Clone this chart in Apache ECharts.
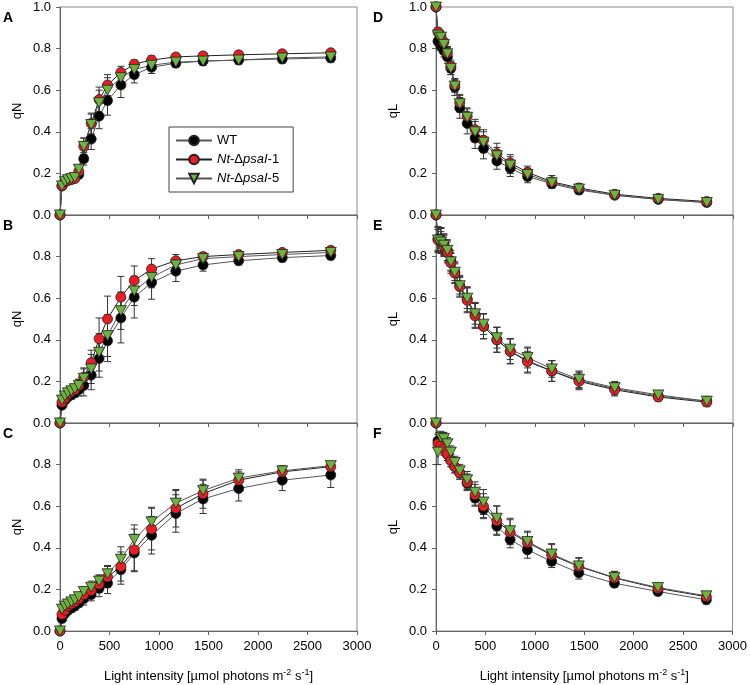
<!DOCTYPE html>
<html>
<head>
<meta charset="utf-8">
<script src="https://cdn.jsdelivr.net/npm/echarts@6/dist/echarts.min.js"></script>
<style>
html,body{margin:0;padding:0;background:#fff;}
#main{width:750px;height:685px;}
</style>
</head>
<body>
<div id="main"></div>
<script>
// light steps (µmol photons m-2 s-1)
var lightX = [0, 20, 50, 80, 115, 150, 190, 240, 315, 395, 480, 615, 750, 925, 1170, 1445, 1805, 2245, 2735];

// qN, panels A-C
var wtA = [0, 0.14, 0.16, 0.17, 0.175, 0.18, 0.195, 0.27, 0.365, 0.475, 0.55, 0.625, 0.675, 0.71, 0.73, 0.74, 0.745, 0.75, 0.755];
var d1A = [0, 0.14, 0.16, 0.165, 0.17, 0.175, 0.21, 0.33, 0.44, 0.555, 0.625, 0.685, 0.725, 0.745, 0.76, 0.765, 0.77, 0.775, 0.78];
var d5A = [0, 0.14, 0.16, 0.17, 0.175, 0.18, 0.22, 0.33, 0.435, 0.54, 0.60, 0.66, 0.70, 0.72, 0.735, 0.74, 0.745, 0.755, 0.76];
var wtB = [0, 0.085, 0.11, 0.125, 0.135, 0.145, 0.16, 0.18, 0.23, 0.31, 0.395, 0.505, 0.605, 0.675, 0.73, 0.76, 0.78, 0.795, 0.805];
var d1B = [0, 0.10, 0.12, 0.14, 0.15, 0.16, 0.18, 0.22, 0.29, 0.405, 0.50, 0.605, 0.685, 0.74, 0.78, 0.80, 0.81, 0.82, 0.83];
var d5B = [0, 0.11, 0.13, 0.145, 0.155, 0.165, 0.18, 0.215, 0.26, 0.34, 0.42, 0.54, 0.635, 0.70, 0.76, 0.79, 0.80, 0.81, 0.82];
var wtC = [0, 0.06, 0.085, 0.10, 0.11, 0.12, 0.135, 0.155, 0.175, 0.205, 0.23, 0.295, 0.375, 0.46, 0.565, 0.635, 0.685, 0.725, 0.75];
var d1C = [0, 0.08, 0.10, 0.12, 0.13, 0.14, 0.155, 0.175, 0.195, 0.225, 0.26, 0.31, 0.39, 0.49, 0.59, 0.66, 0.725, 0.765, 0.79];
var d5C = [0, 0.105, 0.12, 0.13, 0.14, 0.15, 0.165, 0.19, 0.21, 0.24, 0.275, 0.345, 0.44, 0.525, 0.615, 0.675, 0.735, 0.77, 0.795];

// qL, panels D-F
var wtD = [1.0, 0.835, 0.81, 0.79, 0.76, 0.705, 0.615, 0.515, 0.44, 0.37, 0.32, 0.26, 0.225, 0.185, 0.15, 0.12, 0.095, 0.075, 0.06];
var d1D = [1.0, 0.88, 0.86, 0.83, 0.78, 0.715, 0.625, 0.54, 0.475, 0.41, 0.36, 0.295, 0.25, 0.205, 0.16, 0.13, 0.10, 0.08, 0.065];
var d5D = [1.0, 0.865, 0.855, 0.82, 0.775, 0.705, 0.62, 0.535, 0.47, 0.40, 0.35, 0.285, 0.24, 0.195, 0.155, 0.125, 0.095, 0.075, 0.06];
var wtE = [1.0, 0.885, 0.88, 0.86, 0.83, 0.78, 0.725, 0.66, 0.595, 0.52, 0.465, 0.40, 0.345, 0.30, 0.25, 0.205, 0.165, 0.13, 0.105];
var d1E = [1.0, 0.88, 0.875, 0.85, 0.82, 0.77, 0.72, 0.655, 0.59, 0.515, 0.465, 0.40, 0.345, 0.295, 0.25, 0.20, 0.16, 0.125, 0.10];
var d5E = [1.0, 0.88, 0.87, 0.855, 0.83, 0.775, 0.725, 0.66, 0.60, 0.525, 0.475, 0.41, 0.355, 0.315, 0.26, 0.21, 0.17, 0.135, 0.105];
var wtF = [1.0, 0.915, 0.90, 0.88, 0.85, 0.82, 0.79, 0.76, 0.71, 0.64, 0.585, 0.505, 0.44, 0.39, 0.335, 0.28, 0.23, 0.19, 0.15];
var d1F = [1.0, 0.90, 0.89, 0.875, 0.85, 0.82, 0.79, 0.76, 0.715, 0.655, 0.60, 0.53, 0.475, 0.425, 0.365, 0.31, 0.255, 0.205, 0.165];
var d5F = [1.0, 0.86, 0.93, 0.925, 0.90, 0.86, 0.81, 0.77, 0.727, 0.667, 0.62, 0.542, 0.482, 0.43, 0.37, 0.313, 0.257, 0.209, 0.169];

// error bars (SD)
var eWtA = [0, 0.01, 0.01, 0.01, 0.01, 0.01, 0.02, 0.03, 0.05, 0.06, 0.07, 0.06, 0.04, 0.03, 0.02, 0.02, 0.02, 0.02, 0.02];
var eD1A = [0, 0.01, 0.01, 0.01, 0.01, 0.01, 0.02, 0.04, 0.05, 0.06, 0.05, 0.03, 0.02, 0.02, 0.01, 0.01, 0.01, 0.01, 0.01];
var eD5A = [0, 0.01, 0.01, 0.01, 0.01, 0.01, 0.02, 0.04, 0.05, 0.06, 0.06, 0.04, 0.03, 0.02, 0.02, 0.01, 0.01, 0.01, 0.01];
var eWtB = [0, 0.01, 0.01, 0.01, 0.02, 0.02, 0.03, 0.05, 0.07, 0.09, 0.10, 0.12, 0.10, 0.08, 0.05, 0.03, 0.02, 0.02, 0.02];
var eD1B = [0, 0.01, 0.01, 0.01, 0.02, 0.02, 0.03, 0.04, 0.06, 0.10, 0.11, 0.10, 0.07, 0.05, 0.03, 0.02, 0.01, 0.01, 0.01];
var eD5B = [0, 0.01, 0.01, 0.01, 0.02, 0.02, 0.03, 0.05, 0.07, 0.09, 0.10, 0.09, 0.07, 0.05, 0.03, 0.02, 0.02, 0.02, 0.02];
var eWtC = [0, 0.02, 0.02, 0.02, 0.02, 0.02, 0.02, 0.03, 0.03, 0.04, 0.05, 0.07, 0.09, 0.09, 0.09, 0.07, 0.06, 0.05, 0.06];
var eD1C = [0, 0.02, 0.02, 0.02, 0.02, 0.02, 0.02, 0.03, 0.03, 0.04, 0.05, 0.07, 0.10, 0.10, 0.09, 0.07, 0.05, 0.03, 0.02];
var eD5C = [0, 0.02, 0.02, 0.02, 0.02, 0.02, 0.02, 0.02, 0.03, 0.03, 0.04, 0.06, 0.07, 0.07, 0.06, 0.05, 0.03, 0.02, 0.02];
var eWtD = [0, 0.02, 0.02, 0.03, 0.03, 0.03, 0.04, 0.05, 0.05, 0.05, 0.05, 0.04, 0.04, 0.03, 0.02, 0.02, 0.01, 0.01, 0.01];
var eD1D = [0, 0.02, 0.02, 0.02, 0.03, 0.03, 0.03, 0.04, 0.04, 0.05, 0.05, 0.05, 0.04, 0.03, 0.03, 0.02, 0.01, 0.01, 0.01];
var eD5D = [0, 0.02, 0.02, 0.02, 0.03, 0.03, 0.03, 0.04, 0.04, 0.05, 0.05, 0.04, 0.04, 0.03, 0.02, 0.02, 0.01, 0.01, 0.01];
var eWtE = [0, 0.06, 0.06, 0.05, 0.05, 0.05, 0.05, 0.05, 0.06, 0.06, 0.06, 0.06, 0.06, 0.06, 0.05, 0.04, 0.03, 0.02, 0.02];
var eD1E = [0, 0.06, 0.06, 0.05, 0.05, 0.05, 0.05, 0.05, 0.06, 0.06, 0.06, 0.06, 0.06, 0.05, 0.05, 0.04, 0.03, 0.02, 0.02];
var eD5E = [0, 0.05, 0.05, 0.05, 0.05, 0.04, 0.04, 0.04, 0.05, 0.05, 0.05, 0.05, 0.05, 0.05, 0.04, 0.04, 0.03, 0.02, 0.02];
var eWtF = [0, 0.03, 0.03, 0.03, 0.03, 0.03, 0.03, 0.03, 0.03, 0.04, 0.04, 0.04, 0.04, 0.04, 0.03, 0.03, 0.02, 0.02, 0.02];
var eD1F = [0, 0.03, 0.03, 0.03, 0.03, 0.03, 0.03, 0.03, 0.04, 0.05, 0.06, 0.07, 0.06, 0.05, 0.05, 0.04, 0.03, 0.02, 0.02];
var eD5F = [0, 0.06, 0.03, 0.03, 0.03, 0.03, 0.03, 0.03, 0.04, 0.05, 0.06, 0.06, 0.06, 0.05, 0.05, 0.04, 0.03, 0.02, 0.02];

var seriesNames = ['WT', 'Nt-ΔpsaI-1', 'Nt-ΔpsaI-5'];
var panelLetters = ['A', 'B', 'C', 'D', 'E', 'F'];

var panels = [
    {vals: [wtA, d1A, d5A], errs: [eWtA, eD1A, eD5A], name: 'qN'},
    {vals: [wtB, d1B, d5B], errs: [eWtB, eD1B, eD5B], name: 'qN'},
    {vals: [wtC, d1C, d5C], errs: [eWtC, eD1C, eD5C], name: 'qN'},
    {vals: [wtD, d1D, d5D], errs: [eWtD, eD1D, eD5D], name: 'qL'},
    {vals: [wtE, d1E, d5E], errs: [eWtE, eD1E, eD5E], name: 'qL'},
    {vals: [wtF, d1F, d5F], errs: [eWtF, eD1F, eD5F], name: 'qL'}
];

var FONT = 'Liberation Sans, Arial, sans-serif';
var colors = ['#000000', '#ec1c24', '#6cb33f'];
var lineColors = ['#555', '#222', '#555'];
var symbols = ['circle', 'circle', 'path://M0,0 L10,0 L5,9 Z'];
var symSizes = [10, 10, [11, 10]];

var grids = [], xAxes = [], yAxes = [], series = [], titles = [];
var lefts = [60, 436], tops = [7, 215, 423], W = 297, H = 208;

function errRender(params, api) {
    var x = api.value(0), y = api.value(1), e = api.value(2);
    if (!e) return;
    var t = api.coord([x, y + e]), b = api.coord([x, y - e]);
    var st = {stroke: '#333', lineWidth: 1};
    return {type: 'group', children: [
        {type: 'line', shape: {x1: t[0], y1: t[1], x2: b[0], y2: b[1]}, style: st},
        {type: 'line', shape: {x1: t[0] - 3.5, y1: t[1], x2: t[0] + 3.5, y2: t[1]}, style: st},
        {type: 'line', shape: {x1: b[0] - 3.5, y1: b[1], x2: b[0] + 3.5, y2: b[1]}, style: st}
    ]};
}

panels.forEach(function (p, i) {
    var col = i < 3 ? 0 : 1, row = i % 3, bottom = row === 2;
    grids.push({left: lefts[col], top: tops[row], width: W, height: H, show: true,
        borderColor: '#8a8a8a', borderWidth: 1, backgroundColor: 'transparent'});
    xAxes.push({
        type: 'value', gridIndex: i, min: 0, max: 3000, interval: 500,
        splitLine: {show: false},
        axisLine: {lineStyle: {color: '#666'}},
        axisTick: {inside: false, length: 4, lineStyle: {color: '#666'}},
        axisLabel: {show: bottom, color: '#000', fontSize: 13, fontFamily: FONT, margin: 9,
            formatter: function (v) { return String(v); }},
        name: bottom ? 'Light intensity [µmol photons m{sup|-2} s{sup|-1}]' : '',
        nameLocation: 'middle', nameGap: 37,
        nameTextStyle: {color: '#000', fontSize: 13, fontFamily: FONT,
            rich: {sup: {fontSize: 9, fontFamily: FONT, color: '#000', padding: [0, 0, 8, 0]}}}
    });
    yAxes.push({
        type: 'value', gridIndex: i, min: 0, max: 1, interval: 0.2,
        splitLine: {show: false},
        axisLine: {lineStyle: {color: '#666'}},
        axisTick: {inside: false, length: 4, lineStyle: {color: '#666'}},
        axisLabel: {color: '#000', fontSize: 13, fontFamily: FONT, margin: 9,
            formatter: function (v) { return (row > 0 && v === 1) ? '' : v.toFixed(1); }},
        name: p.name, nameLocation: 'middle', nameGap: 36,
        nameTextStyle: {color: '#000', fontSize: 13, fontFamily: FONT}
    });
    titles.push({text: panelLetters[i], left: col === 0 ? 3 : 373, top: tops[row] + 4, padding: 0,
        textStyle: {fontSize: 14, fontWeight: 'bold', color: '#000', fontFamily: FONT}});
    for (var s = 0; s < 3; s++) {
        (function (s) {
            var vals = p.vals[s], errs = p.errs[s];
            series.push({
                name: seriesNames[s], type: 'line', xAxisIndex: i, yAxisIndex: i,
                data: lightX.map(function (x, k) { return [x, vals[k]]; }),
                symbol: symbols[s], symbolSize: symSizes[s], clip: false,
                lineStyle: {color: lineColors[s], width: 1},
                itemStyle: {color: colors[s], borderColor: '#222', borderWidth: 0.8},
                emphasis: {disabled: true}, animation: false
            });
            series.push({
                name: 'err' + i + s, type: 'custom', xAxisIndex: i, yAxisIndex: i,
                data: lightX.map(function (x, k) { return [x, vals[k], errs[k]]; }),
                encode: {x: 0, y: 1}, renderItem: errRender, silent: true, clip: false, animation: false
            });
        })(s);
    }
});

var chart = echarts.init(document.getElementById('main'), null, {renderer: 'canvas'});
chart.setOption({
    animation: false,
    title: titles,
    grid: grids,
    xAxis: xAxes,
    yAxis: yAxes,
    legend: {
        data: seriesNames, orient: 'vertical', left: 169, top: 127,
        itemWidth: 36, itemHeight: 12, itemGap: 6, padding: [7, 14, 7, 6],
        borderColor: '#444', borderWidth: 1, backgroundColor: '#fff',
        textStyle: {color: '#000', fontSize: 13, fontFamily: FONT,
            rich: {i: {fontStyle: 'italic', fontSize: 13, fontFamily: FONT, color: '#000'}}},
        formatter: function (name) {
            if (name === 'WT') return name;
            var parts = name.split('-');
            return '{i|Nt}-Δ{i|psaI}-' + parts[2];
        },
        selectedMode: false
    },
    series: series
});
</script>
</body>
</html>
